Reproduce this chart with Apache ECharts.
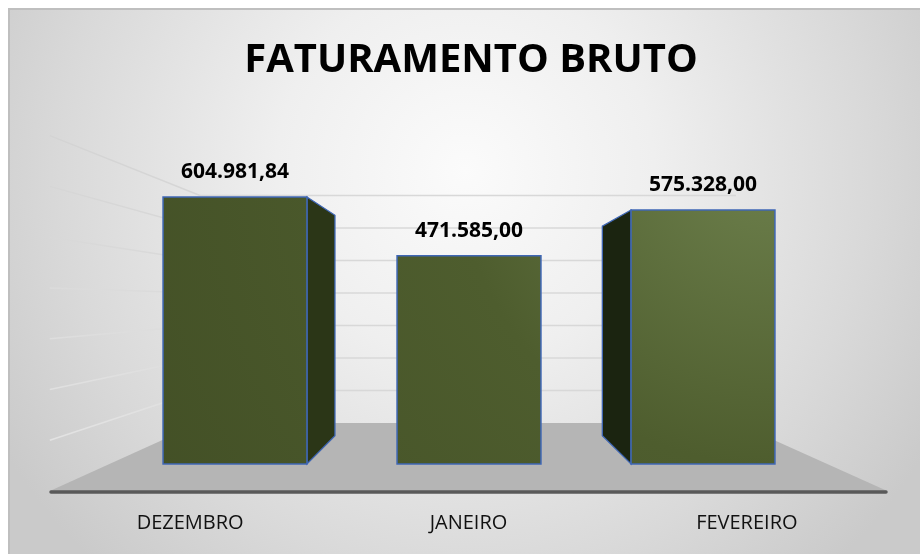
<!DOCTYPE html>
<html>
<head>
<meta charset="utf-8">
<title>Faturamento Bruto</title>
<script src="https://cdn.jsdelivr.net/npm/echarts@6/dist/echarts.min.js"></script>
<style>
    html, body { margin: 0; padding: 0; background: #fff; }
    #chart { width: 920px; height: 554px; }
</style>
</head>
<body>
<div id="chart"></div>
<script>
var meses = ["DEZEMBRO", "JANEIRO", "FEVEREIRO"];
var faturamento = [604981.84, 471585.00, 575328.00];
var escalaMax = 700000;
var escalaPasso = 100000;
var linhasGrade = [0, 100000, 200000, 300000, 400000, 500000, 600000, 700000];

// perspectiva do grafico 3d (ponto de fuga e profundidades)
var pontoFuga = [467, 302];
var profBarra = 0.825;
var profParede = 0.64;

function formatoBR(v) {
    var partes = v.toFixed(2).split(".");
    partes[0] = partes[0].replace(/\B(?=(\d{3})+(?!\d))/g, ".");
    return partes[0] + "," + partes[1];
}

function projeta(p, k) {
    return [pontoFuga[0] + (p[0] - pontoFuga[0]) * k, pontoFuga[1] + (p[1] - pontoFuga[1]) * k];
}

var corFrente = new echarts.graphic.RadialGradient(770, 150, 700, [
    {offset: 0, color: "#6e814d"},
    {offset: 0.45, color: "#4e5d2e"},
    {offset: 1, color: "#435026"}
], true);

var corParedeLateral = new echarts.graphic.LinearGradient(0, 130, 0, 450, [
    {offset: 0, color: "#d3d3d3"},
    {offset: 1, color: "#e3e3e3"}
], true);

function desenhaBarra(params, api) {
    var topo = api.coord([api.value(0), api.value(1)]);
    var base = api.coord([api.value(0), 0]);
    var largura = api.size([1, 0])[0] * 0.615;
    var x0 = topo[0] - largura / 2;
    var x1 = topo[0] + largura / 2;
    var filhos = [];
    var a, b;
    if (x1 < pontoFuga[0]) {
        a = [x1, topo[1]];
        b = [x1, base[1]];
        filhos.push({
            type: "polygon",
            shape: {points: [a, projeta(a, profBarra), projeta(b, profBarra), b]},
            style: {fill: "#2b3617", stroke: "#3f67b5", lineWidth: 1.3}
        });
    }
    if (x0 > pontoFuga[0]) {
        a = [x0, topo[1]];
        b = [x0, base[1]];
        filhos.push({
            type: "polygon",
            shape: {points: [a, projeta(a, profBarra), projeta(b, profBarra), b]},
            style: {fill: "#1b2410", stroke: "#3f67b5", lineWidth: 1.3}
        });
    }
    filhos.push({
        type: "rect",
        shape: {x: x0, y: topo[1], width: largura, height: base[1] - topo[1]},
        style: {fill: corFrente, stroke: "#3f67b5", lineWidth: 1.5}
    });
    filhos.push({
        type: "text",
        x: topo[0],
        y: topo[1] - 25,
        style: {
            text: formatoBR(api.value(1)),
            fill: "#000",
            font: "bold 21px 'Open Sans'",
            align: "center",
            verticalAlign: "middle",
            textAlign: "center",
            textVerticalAlign: "middle"
        }
    });
    return {type: "group", children: filhos};
}

function desenhaParede(params, api) {
    var v = api.value(1);
    var esq = api.coord([0, v]);
    var dir = api.coord([1, v]);
    var frenteEsq = projeta(esq, 1 / profParede);
    if (v === 0) {
        var frenteDir = projeta(dir, 1 / profParede);
        return {
            type: "polygon",
            shape: {points: [frenteEsq, frenteDir, dir, esq]},
            style: {fill: "#b5b5b5"}
        };
    }
    return {
        type: "group",
        children: [
            {type: "line", shape: {x1: frenteEsq[0], y1: frenteEsq[1], x2: esq[0], y2: esq[1]},
                style: {stroke: corParedeLateral, lineWidth: 1.5}},
            {type: "line", shape: {x1: esq[0], y1: esq[1], x2: dir[0], y2: dir[1]},
                style: {stroke: "#d8d8d8", lineWidth: 1.5}}
        ]
    };
}

var dadosBarras = [];
for (var i = 0; i < meses.length; i++) {
    dadosBarras.push([i, faturamento[i]]);
}
var dadosGrade = [];
for (var j = 0; j < linhasGrade.length; j++) {
    dadosGrade.push([0, linhasGrade[j]]);
}

var chart = echarts.init(document.getElementById("chart"));
chart.setOption({
    backgroundColor: "#fff",
    animation: false,
    graphic: [{
        type: "rect",
        z: -10,
        shape: {x: 9, y: 9, width: 920, height: 554},
        style: {
            fill: new echarts.graphic.RadialGradient(465, 170, 540, [
                {offset: 0, color: "#fbfbfb"},
                {offset: 0.35, color: "#efefef"},
                {offset: 0.75, color: "#d9d9d9"},
                {offset: 1, color: "#cacaca"}
            ], true),
            stroke: "#bfbfbf",
            lineWidth: 2
        }
    }],
    title: {
        text: "FATURAMENTO BRUTO",
        left: 466,
        top: 36,
        textAlign: "center",
        textStyle: {fontSize: 40, fontWeight: "bold", fontFamily: "Open Sans", color: "#000"}
    },
    grid: [
        {left: 118, right: 100, top: 155, bottom: 90},
        {left: 200, right: 184, top: 195.5, bottom: 131},
        {left: 51, right: 34, top: 400, bottom: 62}
    ],
    xAxis: [
        {type: "category", gridIndex: 0, data: meses, show: false},
        {type: "value", gridIndex: 1, min: 0, max: 1, show: false},
        {
            type: "category", gridIndex: 2, data: meses, z: 5,
            axisLine: {lineStyle: {color: "#595959", width: 3.5}},
            axisTick: {show: false},
            axisLabel: {margin: 21, fontSize: 20, fontFamily: "Open Sans", color: "#111"}
        }
    ],
    yAxis: [
        {type: "value", gridIndex: 0, min: 0, max: escalaMax, interval: escalaPasso, show: false},
        {type: "value", gridIndex: 1, min: 0, max: escalaMax, interval: escalaPasso, show: false},
        {type: "value", gridIndex: 2, show: false}
    ],
    series: [
        {
            type: "custom",
            name: "paredes",
            xAxisIndex: 1,
            yAxisIndex: 1,
            z: 1,
            silent: true,
            renderItem: desenhaParede,
            data: dadosGrade
        },
        {
            type: "custom",
            name: "Faturamento",
            xAxisIndex: 0,
            yAxisIndex: 0,
            z: 2,
            renderItem: desenhaBarra,
            data: dadosBarras
        }
    ]
});
</script>
</body>
</html>
